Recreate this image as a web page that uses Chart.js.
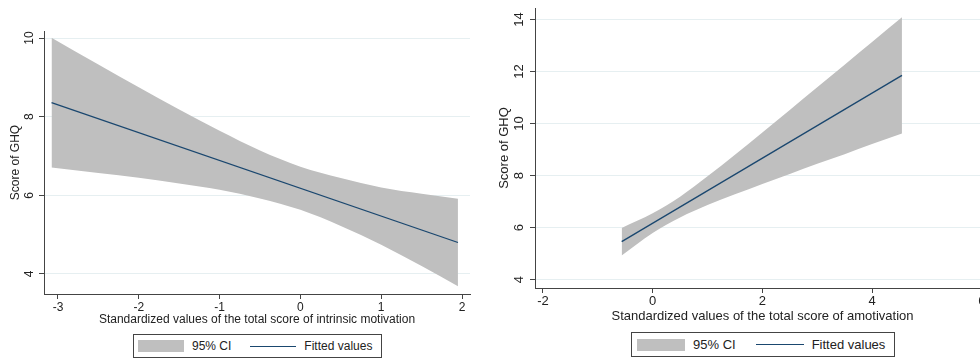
<!DOCTYPE html>
<html>
<head>
<meta charset="utf-8">
<script src="https://cdn.jsdelivr.net/npm/chart.js@4.4.1/dist/chart.umd.min.js"></script>
<style>
    html, body { margin: 0; padding: 0; background: #fff; overflow: hidden; width: 980px; height: 359px; }
    .wrap { position: absolute; top: 0; }
    canvas { display: block; }
    .legend {
        position: absolute; box-sizing: border-box; border: 1px solid #444;
        font-family: "Liberation Sans", Arial, sans-serif; color: #222;
        display: flex; align-items: center; background: #fff;
    }
    .legend .swatch { background: #bfbfbf; height: 12px; }
    .legend .line { height: 0; border-top: 1.3px solid #1a476f; }
</style>
</head>
<body>
<div class="wrap" style="left:0"><canvas id="leftChart" width="490" height="330"></canvas></div>
<div class="wrap" style="left:490px"><canvas id="rightChart" width="520" height="330"></canvas></div>

<div class="legend" style="left:133px; top:334px; width:249px; height:24px; font-size:12px;">
    <span class="swatch" style="margin-left:4px; width:46px;"></span>
    <span style="margin-left:8px;">95% CI</span>
    <span class="line" style="margin-left:19px; width:46px;"></span>
    <span style="margin-left:8px;">Fitted values</span>
</div>
<div class="legend" style="left:631px; top:332px; width:264px; height:25px; font-size:13px;">
    <span class="swatch" style="margin-left:5px; width:48px;"></span>
    <span style="margin-left:8px;">95% CI</span>
    <span class="line" style="margin-left:20px; width:48px;"></span>
    <span style="margin-left:8px;">Fitted values</span>
</div>

<script>
// left panel: intrinsic motivation
const leftBandX = [-3.08, -2.5, -2, -1.5, -1, -0.5, 0, 0.5, 1, 1.5, 1.95];
const leftUpper = [10.01, 9.33, 8.75, 8.18, 7.64, 7.14, 6.73, 6.44, 6.20, 6.04, 5.91];
const leftLower = [6.71, 6.57, 6.45, 6.30, 6.14, 5.92, 5.63, 5.22, 4.74, 4.20, 3.69];
const leftFitX = [-3.08, 1.95];
const leftFit = [8.36, 4.80];
const leftXTicks = [-3, -2, -1, 0, 1, 2];
const leftYTicks = [4, 6, 8, 10];

// right panel: amotivation
const rightBandX = [-0.565, 0, 0.5, 1, 1.5, 2, 2.5, 3, 3.5, 4, 4.545];
const rightUpper = [5.99, 6.55, 7.19, 7.97, 8.80, 9.66, 10.52, 11.39, 12.26, 13.13, 14.08];
const rightLower = [4.93, 5.79, 6.39, 6.87, 7.28, 7.68, 8.06, 8.45, 8.82, 9.21, 9.62];
const rightFitX = [-0.565, 4.545];
const rightFit = [5.46, 11.85];
const rightXTicks = [-2, 0, 2, 4, 6];
const rightYTicks = [4, 6, 8, 10, 12, 14];

const FONT = '"Liberation Sans", Arial, sans-serif';

function toPoints(xs, ys) {
    return xs.map((x, i) => ({ x: x, y: ys[i] }));
}

// stata draws the y tick labels turned on their side
const rotatedYTicks = {
    id: 'rotatedYTicks',
    afterDraw(chart, args, opts) {
        const y = chart.scales.y;
        const ctx = chart.ctx;
        ctx.save();
        ctx.font = opts.size + 'px ' + FONT;
        ctx.fillStyle = '#222';
        ctx.textAlign = 'center';
        ctx.textBaseline = 'middle';
        y.ticks.forEach(t => {
            const py = y.getPixelForValue(t.value);
            ctx.save();
            ctx.translate(y.right - opts.offset, py);
            ctx.rotate(-Math.PI / 2);
            ctx.fillText(String(t.value), 0, 0);
            ctx.restore();
        });
        ctx.restore();
    }
};

function makeChart(id, p) {
    const ctx = document.getElementById(id).getContext('2d');
    return new Chart(ctx, {
        type: 'scatter',
        data: {
            datasets: [
                {
                    label: 'Fitted values',
                    data: toPoints(p.fitX, p.fit),
                    showLine: true,
                    borderColor: '#1a476f',
                    borderWidth: 1.3,
                    pointRadius: 0,
                    order: 0
                },
                {
                    label: 'upper',
                    data: toPoints(p.bandX, p.upper),
                    showLine: true,
                    borderWidth: 0,
                    borderColor: 'rgba(0,0,0,0)',
                    backgroundColor: '#bfbfbf',
                    pointRadius: 0,
                    cubicInterpolationMode: 'monotone',
                    fill: '+1',
                    order: 1
                },
                {
                    label: '95% CI',
                    data: toPoints(p.bandX, p.lower),
                    showLine: true,
                    borderWidth: 0,
                    borderColor: 'rgba(0,0,0,0)',
                    pointRadius: 0,
                    cubicInterpolationMode: 'monotone',
                    fill: false,
                    order: 2
                }
            ]
        },
        options: {
            responsive: false,
            animation: false,
            events: [],
            layout: { padding: p.padding },
            plugins: {
                legend: { display: false },
                tooltip: { enabled: false },
                rotatedYTicks: { size: p.fontSize, offset: p.labelOffset }
            },
            scales: {
                x: {
                    type: 'linear',
                    min: p.xMin,
                    max: p.xMax,
                    afterBuildTicks: s => { s.ticks = p.xTicks.map(v => ({ value: v })); },
                    afterFit: s => { s.height = p.xHeight; },
                    border: { color: '#444', width: 1 },
                    grid: { drawOnChartArea: false, tickLength: 5, tickColor: '#444' },
                    ticks: { color: '#222', padding: 1, maxRotation: 0, font: { family: FONT, size: p.fontSize } },
                    title: { display: true, text: p.xTitle, color: '#222', padding: 0, font: { family: FONT, size: p.fontSize } }
                },
                y: {
                    type: 'linear',
                    min: p.yMin,
                    max: p.yMax,
                    afterBuildTicks: s => { s.ticks = p.yTicks.map(v => ({ value: v })); },
                    afterFit: s => { s.width = p.yWidth; },
                    border: { color: '#444', width: 1 },
                    grid: { color: '#e6eff1', tickLength: 5, tickColor: '#444' },
                    ticks: { display: false },
                    title: { display: true, text: 'Score of GHQ', color: '#222', padding: { top: p.yTitlePad }, font: { family: FONT, size: p.fontSize } }
                }
            }
        },
        plugins: [rotatedYTicks]
    });
}

makeChart('leftChart', {
    bandX: leftBandX, upper: leftUpper, lower: leftLower,
    fitX: leftFitX, fit: leftFit,
    xTicks: leftXTicks, yTicks: leftYTicks,
    xMin: -3.173, xMax: 2.099, yMin: 3.49, yMax: 10.18,
    xTitle: 'Standardized values of the total score of intrinsic motivation',
    padding: { top: 31, right: 20, left: 0, bottom: 3 },
    xHeight: 33, yWidth: 44, yTitlePad: 8, labelOffset: 14, fontSize: 12
});

makeChart('rightChart', {
    bandX: rightBandX, upper: rightUpper, lower: rightLower,
    fitX: rightFitX, fit: rightFit,
    xTicks: rightXTicks, yTicks: rightYTicks,
    xMin: -2.145, xMax: 6.15, yMin: 3.68, yMax: 14.44,
    xTitle: 'Standardized values of the total score of amotivation',
    padding: { top: 8, right: 20, left: 0, bottom: 6 },
    xHeight: 36, yWidth: 45, yTitlePad: 7, labelOffset: 16, fontSize: 13
});
</script>
</body>
</html>
